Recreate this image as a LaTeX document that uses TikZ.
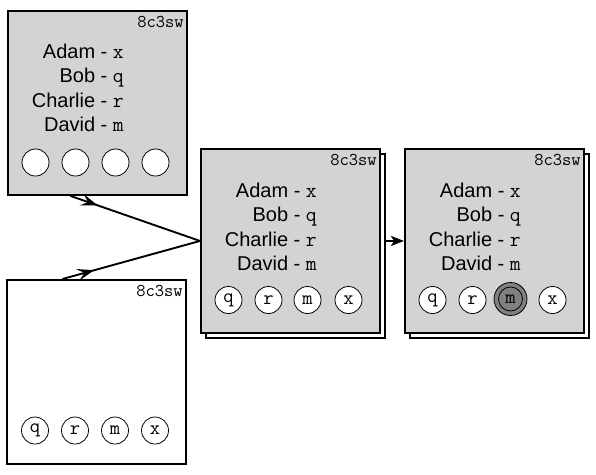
\documentclass[tikz,border=0pt]{standalone}
\usepackage{fontspec}
\setmainfont{Liberation Sans}
\usetikzlibrary{arrows.meta,decorations.markings,calc}
\definecolor{boxgray}{RGB}{211,211,211}
\definecolor{dotgray}{RGB}{128,128,128}
\newcommand{\ttl}[1]{{\fontsize{21}{22}\ttfamily #1}}
\begin{document}
\begin{tikzpicture}[x=1pt,y=-1pt,
  box/.style={draw,line width=1.9pt,minimum width=179pt,minimum height=184pt,inner sep=0pt,anchor=north west,fill=white},
  graybox/.style={box,fill=boxgray},
  tagtext/.style={anchor=base east,inner sep=0pt,font=\fontsize{18}{20}\ttfamily},
  persontext/.style={anchor=base east,inner sep=0pt,font=\fontsize{20}{22}\selectfont},
  ell/.style={circle,draw,line width=0.8pt,fill=white,minimum size=27pt,inner sep=0pt},
  lbl/.style={label={[font=\fontsize{20}{22}\ttfamily,inner sep=0pt]center:#1}},
  conn/.style={line width=1.9pt},
  midarrow/.style={decoration={markings,mark=at position #1 with {\arrow{Stealth[length=17pt,width=12pt,inset=7pt]}}},postaction=decorate}
]
\useasboundingbox (0,0) rectangle (596,474);

% Box 1
\node[graybox] (b1) at (7,10) {};
\node[tagtext] (b1t) at ($(b1.north east)+(-4,17)$) {8c3sw};
\node[persontext] (b1n1) at ($(b1.north west)+(117,48)$) {Adam - \ttl{x}};
\node[persontext] (b1n2) at ($(b1.north west)+(117,72.5)$) {Bob - \ttl{q}};
\node[persontext] (b1n3) at ($(b1.north west)+(117,97)$) {Charlie - \ttl{r}};
\node[persontext] (b1n4) at ($(b1.north west)+(117,121)$) {David - \ttl{m}};
\node[ell] (b1c1) at ($(b1.north west)+(28.5,152.5)$) {};
\node[ell] (b1c2) at ($(b1.north west)+(68.5,152.5)$) {};
\node[ell] (b1c3) at ($(b1.north west)+(108.5,152.5)$) {};
\node[ell] (b1c4) at ($(b1.north west)+(148.5,152.5)$) {};

% Box 2
\node[box] (b2) at (6,279) {};
\node[tagtext] (b2t) at ($(b2.north east)+(-4,17)$) {8c3sw};
\node[ell,lbl=q] (b2c1) at ($(b2.north west)+(29,151.5)$) {};
\node[ell,lbl=r] (b2c2) at ($(b2.north west)+(69,151.5)$) {};
\node[ell,lbl=m] (b2c3) at ($(b2.north west)+(109,151.5)$) {};
\node[ell,lbl=x] (b2c4) at ($(b2.north west)+(149,151.5)$) {};

% Box 3
\node[box] (b3s) at (205,153) {};
\node[graybox] (b3) at (200,148) {};
\node[tagtext] (b3t) at ($(b3.north east)+(-4,17)$) {8c3sw};
\node[persontext] (b3n1) at ($(b3.north west)+(117,49)$) {Adam - \ttl{x}};
\node[persontext] (b3n2) at ($(b3.north west)+(117,73.5)$) {Bob - \ttl{q}};
\node[persontext] (b3n3) at ($(b3.north west)+(117,98)$) {Charlie - \ttl{r}};
\node[persontext] (b3n4) at ($(b3.north west)+(117,122)$) {David - \ttl{m}};
\node[ell,lbl=q] (b3c1) at ($(b3.north west)+(28.5,152)$) {};
\node[ell,lbl=r] (b3c2) at ($(b3.north west)+(68.5,152)$) {};
\node[ell,lbl=m] (b3c3) at ($(b3.north west)+(107.5,152)$) {};
\node[ell,lbl=x] (b3c4) at ($(b3.north west)+(148.5,152)$) {};

% Box 4
\node[box] (b4s) at (409,153) {};
\node[graybox] (b4) at (404,148) {};
\node[tagtext] (b4t) at ($(b4.north east)+(-4,17)$) {8c3sw};
\node[persontext] (b4n1) at ($(b4.north west)+(117,49)$) {Adam - \ttl{x}};
\node[persontext] (b4n2) at ($(b4.north west)+(117,73.5)$) {Bob - \ttl{q}};
\node[persontext] (b4n3) at ($(b4.north west)+(117,98)$) {Charlie - \ttl{r}};
\node[persontext] (b4n4) at ($(b4.north west)+(117,122)$) {David - \ttl{m}};
\node[ell,lbl=q] (b4c1) at ($(b4.north west)+(28.5,152)$) {};
\node[ell,lbl=r] (b4c2) at ($(b4.north west)+(68.5,152)$) {};
\node[ell,fill=dotgray,minimum size=33pt] (b4c3o) at ($(b4.north west)+(106.5,151)$) {};
\node[ell,fill=dotgray,minimum size=24pt,lbl=m] (b4c3) at (b4c3o.center) {};
\node[ell,lbl=x] (b4c4) at ($(b4.north west)+(148.5,152)$) {};

% Connectors
\coordinate (s1) at ($(b1.south)+(-27,0)$);
\coordinate (s2) at ($(b2.north)+(-34,0)$);
\draw[conn,midarrow=0.21] (s1) -- (b3.west);
\draw[conn,midarrow=0.23] (s2) -- (b3.west);
\draw[conn,-{Stealth[length=13pt,width=10pt,inset=3pt]}] (b3s.east |- b4.west) -- (b4.west);
\end{tikzpicture}
\end{document}
